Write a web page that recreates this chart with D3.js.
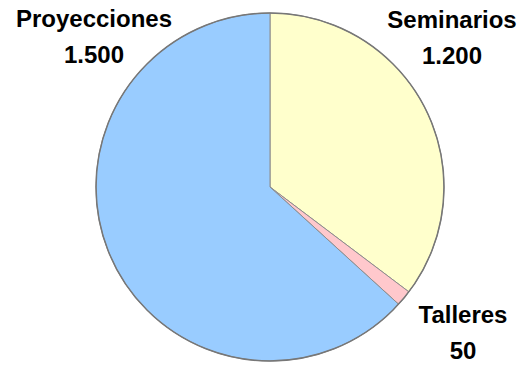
<!DOCTYPE html>
<html>
<head>
<meta charset="utf-8">
<script src="https://cdn.jsdelivr.net/npm/d3@7"></script>
<style>
  html, body { margin: 0; padding: 0; background: #fff; }
  .label { font-family: "Liberation Sans", Arial, sans-serif; font-weight: bold; font-size: 24px; fill: #000; }
</style>
</head>
<body>
<div id="chart"></div>
<script>
// slice order runs clockwise from 12 o'clock
var categories = ["Seminarios", "Talleres", "Proyecciones"];
// share of the circle each slice takes
var sliceValues = [1200, 50, 2150];
// the numbers printed under each name
var valueLabels = ["1.200", "50", "1.500"];
var colors = ["#ffffcc", "#ffc8cc", "#99ccff"];

var w = 527, h = 365;
var cx = 270, cy = 187, radius = 174;

// label anchors, offset from the pie center
var labelOffsets = [[182, -159], [193, 136], [-176, -160]];
var lineGap = 36;

var svg = d3.select("#chart").append("svg")
  .attr("width", w)
  .attr("height", h);

var g = svg.append("g")
  .attr("transform", "translate(" + cx + "," + cy + ")");

var data = categories.map(function(c, i) {
  return {name: c, value: sliceValues[i], label: valueLabels[i], color: colors[i], offset: labelOffsets[i]};
});

var pie = d3.pie()
  .sort(null)
  .value(function(d) { return d.value; });

var arc = d3.arc()
  .innerRadius(0)
  .outerRadius(radius);

g.selectAll("path.slice")
  .data(pie(data))
  .enter()
  .append("path")
  .attr("class", "slice")
  .attr("d", arc)
  .attr("fill", function(d) { return d.data.color; })
  .attr("stroke", "#8c8c8c")
  .attr("stroke-width", 1);

// darker rim round the whole pie
g.append("circle")
  .attr("r", radius)
  .attr("fill", "none")
  .attr("stroke", "#777")
  .attr("stroke-width", 1.5);

var labels = g.selectAll("text.label")
  .data(data)
  .enter()
  .append("text")
  .attr("class", "label")
  .attr("text-anchor", "middle")
  .attr("x", function(d) { return d.offset[0]; })
  .attr("y", function(d) { return d.offset[1]; });

labels.append("tspan")
  .attr("x", function(d) { return d.offset[0]; })
  .text(function(d) { return d.name; });

labels.append("tspan")
  .attr("x", function(d) { return d.offset[0]; })
  .attr("dy", lineGap)
  .text(function(d) { return d.label; });
</script>
</body>
</html>
